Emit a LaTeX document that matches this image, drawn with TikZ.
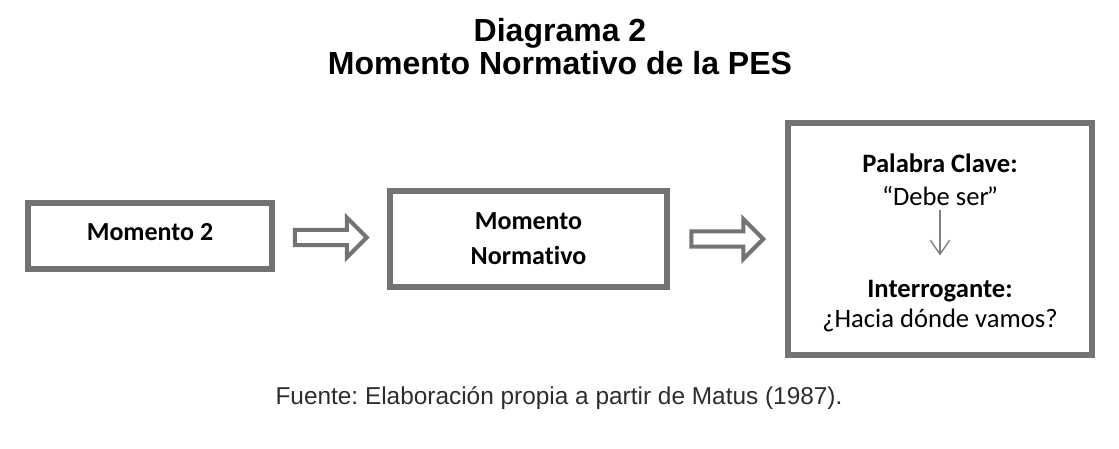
\documentclass[tikz,border=0pt]{standalone}
\usepackage{fontspec}
\setmainfont{Carlito}[Ligatures=NoCommon]
\newfontfamily\arialfont{Liberation Sans}
\usetikzlibrary{shapes.arrows,arrows.meta,calc}
\definecolor{boxgray}{RGB}{115,115,115}
\definecolor{linegray}{RGB}{128,128,128}
\definecolor{textgray}{RGB}{45,45,45}
\frenchspacing
\tikzset{
  momento/.style = {rectangle, draw=boxgray, line width=6pt, inner sep=0pt,
    align=center, font=\fontsize{26}{35}\selectfont\bfseries},% caja de momento
  flecha/.style = {single arrow, draw=boxgray, line width=4pt, fill=white, xshift=-4pt,
    inner sep=5.5pt, minimum height=72pt, single arrow head extend=12.5pt},% flecha hueca
  texto/.style = {anchor=base, inner sep=0pt, font=\fontsize{26.6}{30}\selectfont},
  clave/.style = {texto, font=\fontsize{26.6}{30}\selectfont\bfseries},
  titulo/.style = {anchor=base, inner sep=0pt, font=\arialfont\bfseries\fontsize{32}{34}\selectfont},
  fuente/.style = {anchor=base, inner sep=0pt, text=textgray,
    font=\arialfont\fontsize{24.4}{28}\selectfont}
}

\begin{document}
\begin{tikzpicture}[x=1pt, y=-1pt]
  \useasboundingbox (0,0) rectangle (1119,449);
  % titulo
  \node [titulo] (tit1) at (560,42) {Diagrama 2};
  \node [titulo] (tit2) at (560,75) {Momento Normativo de la PES};
  % cajas
  \node [momento, minimum width=244pt, minimum height=66pt, text depth=8pt] (m2) at (150,236) {Momento 2};
  \node [momento, minimum width=277pt, minimum height=96pt] (mn) at (528.5,239) {Momento\\Normativo};
  \node [momento, minimum width=304pt, minimum height=232pt] (pc) at (940,239) {};
  % flechas entre cajas
  \node [flecha] (f1) at ($(m2.east)!0.5!(mn.west)$) {};
  \node [flecha] (f2) at ($(mn.east)!0.5!(pc.west)$) {};
  % contenido de la caja derecha
  \node [clave] (palabra) at (940,173) {Palabra Clave:};
  \node [texto] (debe) at (940,206) {“Debe ser\kern-2pt”};
  \node [clave] (interrog) at (940,297) {Interrogante:};
  \node [texto] (hacia) at (940,327) {¿Hacia dónde vamos?};
  \draw [linegray, line width=1.4pt, -{Straight Barb[length=14pt, width=19pt]},
    shorten <=4pt, shorten >=24pt]
    (debe.south) -- (debe.south |- interrog.north);
  % fuente
  \node [fuente] (fte) at (559,404) {Fuente: Elaboración propia a partir de Matus (1987).};
\end{tikzpicture}
\end{document}
